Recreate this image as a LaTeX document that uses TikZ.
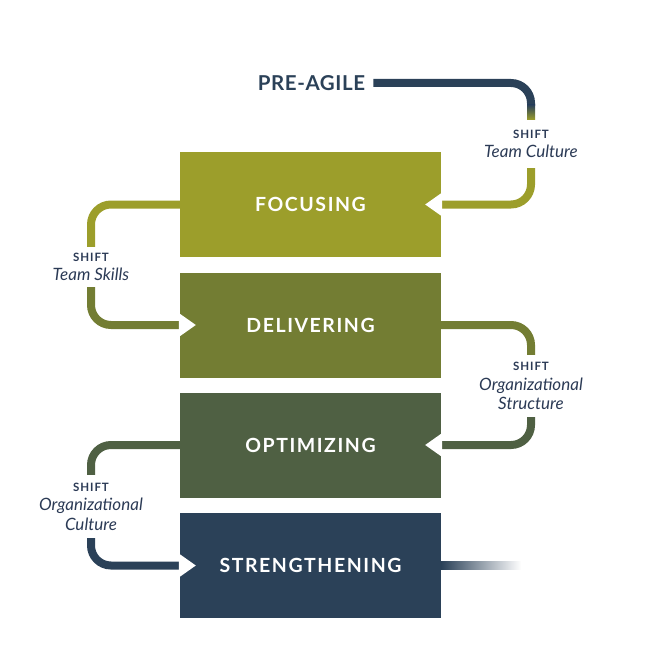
\documentclass[tikz,border=0pt]{standalone}
\usepackage{fontspec}
\setmainfont{Lato}
\definecolor{focuscol}{HTML}{9C9E2B}
\definecolor{delivcol}{HTML}{737D33}
\definecolor{optimcol}{HTML}{4F6043}
\definecolor{strencol}{HTML}{2B4158}
\definecolor{labelcol}{HTML}{2B3A55}
\newcommand{\shifthd}[1]{{\upshape\bfseries\fontsize{11.5}{12}\selectfont\addfontfeature{LetterSpace=8}#1}}
\begin{document}
\begin{tikzpicture}[x=1pt, y=-1pt, every node/.style={inner sep=0pt},
    stage/.style={minimum width=261pt, minimum height=105pt, text=white,
      font=\bfseries\fontsize{19.5}{21}\selectfont\addfontfeature{LetterSpace=8}},
    shiftlbl/.style={align=center, text=labelcol,
      font=\itshape\fontsize{17}{19.5}\selectfont},
    conn/.style={line width=8pt, rounded corners=20pt}]
  \useasboundingbox (0,0) rectangle (660,663);
  \node[text=strencol, font=\bfseries\fontsize{20.5}{22}\selectfont\addfontfeature{LetterSpace=3}] (pre) at (311.5,83) {PRE-AGILE};
  \node[stage, fill=focuscol] (focus) at (310.5,204.5) {FOCUSING};
  \node[stage, fill=delivcol] (deliv) at (310.5,325) {DELIVERING};
  \node[stage, fill=optimcol] (optim) at (310.5,445) {OPTIMIZING};
  \node[stage, fill=strencol] (stren) at (310.5,565.5) {STRENGTHENING};
  \node[shiftlbl, minimum height=48pt] (tcult) at (531,144) {\shifthd{SHIFT}\\Team Culture};
  \node[shiftlbl, minimum height=40pt] (tskill) at (91,267) {\shifthd{SHIFT}\\Team Skills};
  \node[shiftlbl, minimum height=62pt] (ostruct) at (531,386) {\shifthd{SHIFT}\\Organizational\\Structure};
  \node[shiftlbl, minimum height=63pt] (ocult) at (91,506.5) {\shifthd{SHIFT}\\Organizational\\Culture};
  \coordinate (tcbend) at (531,106);
  % connectors
  \draw[conn, strencol] ([xshift=8pt]pre.east) -| (tcbend);
  \shade[top color=strencol, bottom color=focuscol] ([xshift=-4pt,yshift=1pt]tcbend) rectangle ([xshift=4pt]tcult.north);
  \draw[conn, focuscol] (tcult.south) |- (focus.east);
  \draw[conn, focuscol] (focus.west) -| (tskill.north);
  \draw[conn, delivcol] (tskill.south) |- (deliv.west);
  \draw[conn, delivcol] (deliv.east) -| (ostruct.north);
  \draw[conn, optimcol] (ostruct.south) |- (optim.east);
  \draw[conn, optimcol] (optim.west) -| (ocult.north);
  \draw[conn, strencol] (ocult.south) |- (stren.west);
  \shade[left color=strencol, right color=white] ([yshift=4pt]stren.east) rectangle ++(80,8);
  % notches
  \foreach \p/\d in {focus.east/-1, optim.east/-1, deliv.west/1, stren.west/1}
    \fill[white] ([xshift=-\d pt, yshift=12pt]\p) -- ++(17*\d,12) -- ++(-17*\d,12) -- cycle;
\end{tikzpicture}
\end{document}
